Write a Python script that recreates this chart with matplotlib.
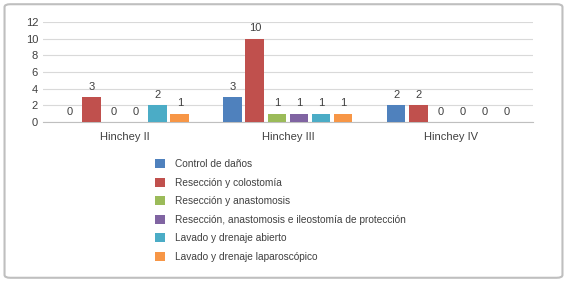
import numpy as np
import matplotlib.pyplot as plt
from matplotlib.patches import FancyBboxPatch

plt.rcParams['font.family'] = ['Liberation Sans', 'DejaVu Sans']

categories = ['Hinchey II', 'Hinchey III', 'Hinchey IV']
series_names = ['Control de daños', 'Resección y colostomía', 'Resección y anastomosis',
                'Resección, anastomosis e ileostomía de protección',
                'Lavado y drenaje abierto', 'Lavado y drenaje laparoscópico']
control = [0, 3, 2]
reseccion_colostomia = [3, 10, 2]
reseccion_anastomosis = [0, 1, 0]
reseccion_ileostomia = [0, 1, 0]
lavado_abierto = [2, 1, 0]
lavado_laparoscopico = [1, 1, 0]
colors = ['#4F81BD', '#C0504D', '#9BBB59', '#8064A2', '#4BACC6', '#F79646']

series = [control, reseccion_colostomia, reseccion_anastomosis,
          reseccion_ileostomia, lavado_abierto, lavado_laparoscopico]

txt = '#404040'
fig = plt.figure(figsize=(5.67, 2.82), dpi=100)
ax = fig.add_axes([0.0758, 0.567, 0.864, 0.355])

x = np.arange(len(categories))
step = 0.135
width = 0.115
for i, (vals, name, c) in enumerate(zip(series, series_names, colors)):
    pos = x + (i - 2.5) * step
    ax.bar(pos, vals, width, color=c, label=name, zorder=3)
    for p, v in zip(pos, vals):
        ax.annotate(str(v), (p, v), xytext=(0, 4), textcoords='offset points',
                    ha='center', va='bottom', fontsize=8, color=txt)

ax.set_xlim(-0.5, 2.5)
ax.set_ylim(0, 12)
ax.set_yticks(range(0, 13, 2))
ax.set_xticks(x)
ax.set_xticklabels(categories)
ax.grid(axis='y', color='#d9d9d9', linewidth=0.8, zorder=0)
for s in ['top', 'right', 'left']:
    ax.spines[s].set_visible(False)
ax.spines['bottom'].set_color('#bfbfbf')
ax.tick_params(axis='both', length=0, labelsize=8, colors=txt)
ax.tick_params(axis='x', pad=7)

fig.legend(loc='upper left', bbox_to_anchor=(0.257, 0.468), frameon=False,
           fontsize=7.3, handlelength=1.0, handleheight=1.0, labelspacing=0.84,
           handletextpad=1.0, labelcolor=txt)

border = FancyBboxPatch((0.008, 0.015), 0.984, 0.97, boxstyle='round,pad=0,rounding_size=0.01',
                        transform=fig.transFigure, fill=False, edgecolor='#bfbfbf', linewidth=1.5)
fig.patches.append(border)

fig.savefig('out.png', dpi=100)
